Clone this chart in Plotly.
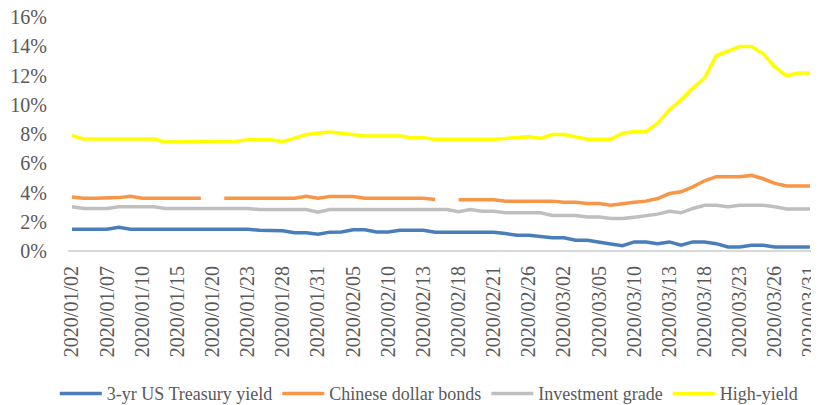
import plotly.graph_objects as go

dates = [
    "2020/01/02", "2020/01/03", "2020/01/06", "2020/01/07", "2020/01/08", "2020/01/09", "2020/01/10",
    "2020/01/13", "2020/01/14", "2020/01/15", "2020/01/16", "2020/01/17", "2020/01/20", "2020/01/21",
    "2020/01/22", "2020/01/23", "2020/01/24", "2020/01/27", "2020/01/28", "2020/01/29", "2020/01/30",
    "2020/01/31", "2020/02/03", "2020/02/04", "2020/02/05", "2020/02/06", "2020/02/07", "2020/02/10",
    "2020/02/11", "2020/02/12", "2020/02/13", "2020/02/14", "2020/02/17", "2020/02/18", "2020/02/19",
    "2020/02/20", "2020/02/21", "2020/02/24", "2020/02/25", "2020/02/26", "2020/02/27", "2020/02/28",
    "2020/03/02", "2020/03/03", "2020/03/04", "2020/03/05", "2020/03/06", "2020/03/09", "2020/03/10",
    "2020/03/11", "2020/03/12", "2020/03/13", "2020/03/16", "2020/03/17", "2020/03/18", "2020/03/19",
    "2020/03/20", "2020/03/23", "2020/03/24", "2020/03/25", "2020/03/26", "2020/03/27", "2020/03/30",
    "2020/03/31",
]

us_treasury = [
    1.49, 1.49, 1.49, 1.49, 1.63, 1.49, 1.49, 1.49, 1.49, 1.49, 1.49, 1.49, 1.49, 1.49, 1.49, 1.49,
    1.42, 1.42, 1.38, 1.25, 1.25, 1.15, 1.29, 1.30, 1.45, 1.45, 1.30, 1.30, 1.42, 1.42, 1.42, 1.29,
    1.29, 1.28, 1.28, 1.28, 1.28, 1.19, 1.08, 1.08, 0.96, 0.90, 0.90, 0.73, 0.73, 0.58, 0.48, 0.36,
    0.62, 0.62, 0.50, 0.62, 0.39, 0.62, 0.62, 0.50, 0.27, 0.27, 0.39, 0.39, 0.27, 0.27, 0.27, 0.27,
]

chinese_dollar = [
    3.70, 3.61, 3.61, 3.61, 3.65, 3.74, 3.61, 3.61, 3.61, 3.61, 3.61, 3.61, None, 3.61, 3.61, 3.61,
    3.61, 3.61, 3.61, 3.61, 3.75, 3.61, 3.73, 3.75, 3.72, 3.61, 3.61, 3.61, 3.61, 3.61, 3.61, 3.52,
    None, 3.50, 3.50, 3.50, 3.50, 3.41, 3.41, 3.41, 3.41, 3.41, 3.34, 3.34, 3.25, 3.25, 3.13, 3.25,
    3.33, 3.41, 3.59, 3.93, 4.05, 4.39, 4.80, 5.08, 5.08, 5.08, 5.17, 4.94, 4.62, 4.44, 4.44, 4.44,
]

investment_grade = [
    3.02, 2.90, 2.90, 2.90, 3.02, 3.02, 3.02, 3.02, 2.90, 2.90, 2.90, 2.90, 2.90, 2.90, 2.90, 2.90,
    2.84, 2.84, 2.84, 2.84, 2.84, 2.65, 2.84, 2.84, 2.84, 2.84, 2.84, 2.84, 2.84, 2.84, 2.84, 2.84,
    2.84, 2.68, 2.84, 2.72, 2.72, 2.61, 2.61, 2.61, 2.61, 2.43, 2.43, 2.43, 2.33, 2.33, 2.22, 2.22,
    2.31, 2.40, 2.52, 2.72, 2.61, 2.91, 3.13, 3.13, 3.02, 3.13, 3.13, 3.13, 3.02, 2.88, 2.88, 2.88,
]

high_yield = [
    7.90, 7.65, 7.65, 7.65, 7.65, 7.65, 7.65, 7.65, 7.45, 7.45, 7.45, 7.45, 7.45, 7.45, 7.50, 7.60,
    7.60, 7.60, 7.48, 7.70, 7.96, 8.05, 8.14, 8.05, 7.96, 7.87, 7.87, 7.87, 7.87, 7.75, 7.75, 7.64,
    7.64, 7.64, 7.64, 7.64, 7.64, 7.70, 7.75, 7.82, 7.70, 7.96, 7.96, 7.77, 7.64, 7.64, 7.64, 8.05,
    8.16, 8.16, 8.74, 9.65, 10.34, 11.14, 11.82, 13.35, 13.65, 13.99, 13.99, 13.49, 12.58, 11.98, 12.17, 12.17,
]

yticks = [0, 2, 4, 6, 8, 10, 12, 14, 16]

series = [
    ("3-yr US Treasury yield", us_treasury, "#4A7EBB"),
    ("Chinese dollar bonds", chinese_dollar, "#F79646"),
    ("Investment grade", investment_grade, "#BFBFBF"),
    ("High-yield", high_yield, "#FFFF00"),
]

fig = go.Figure()
for name, vals, color in series:
    fig.add_trace(go.Scatter(x=dates, y=vals, mode="lines", name=name,
                             line=dict(color=color, width=3.5), connectgaps=False))

# the page body has an 8px margin, so the figure is a bit smaller than the window
font = "Liberation Serif, Times New Roman, serif"
fig.update_layout(
    width=811, height=397,
    margin=dict(l=60, r=4, t=9, b=154, autoexpand=False),
    paper_bgcolor="white", plot_bgcolor="white",
    font=dict(family=font, size=20, color="#595959"),
    showlegend=True,
    legend=dict(orientation="h", x=0.483, xanchor="center", y=-0.61, yanchor="middle",
                font=dict(size=18, color="#595959"), itemwidth=42, tracegroupgap=0),
    xaxis=dict(type="category", range=[-0.34, 63.43], tickmode="array",
               tickvals=dates[::3], ticktext=dates[::3], tickangle=-90,
               showgrid=False, showline=False, zeroline=False,
               ticks="outside", ticklen=6, tickcolor="rgba(0,0,0,0)",
               automargin=False, ticklabeloverflow="allow", tickfont=dict(size=20)),
    yaxis=dict(range=[0, 16], tickvals=yticks, ticktext=[f"{v}%" for v in yticks],
               showgrid=False, zeroline=True, zerolinecolor="#D9D9D9", zerolinewidth=1.5,
               showline=False, ticks="outside", ticklen=16, tickcolor="rgba(0,0,0,0)",
               automargin=False, ticklabeloverflow="allow", tickfont=dict(size=20)),
)

fig.write_html("out.html")
